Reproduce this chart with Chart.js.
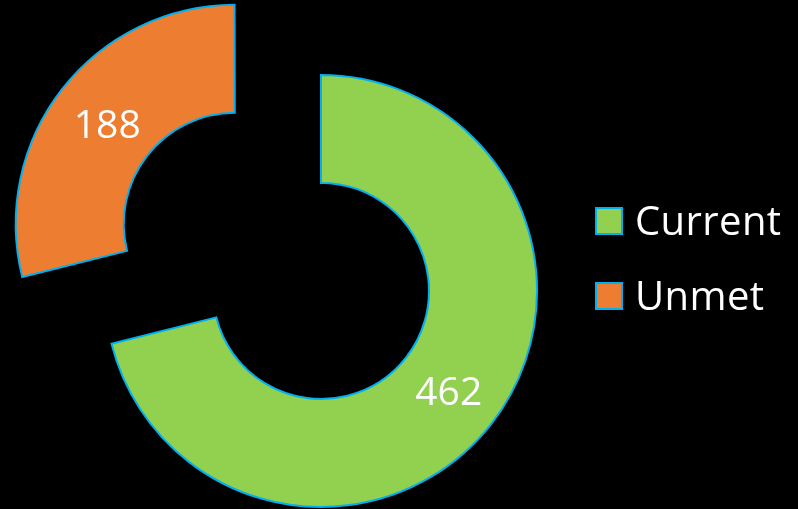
<!DOCTYPE html>
<html>
<head>
<meta charset="utf-8">
<script src="https://cdn.jsdelivr.net/npm/chart.js@4/dist/chart.umd.min.js"></script>
<style>
    html, body {
        margin: 0;
        padding: 0;
        background: #000;
    }
    #wrap {
        position: relative;
        width: 798px;
        height: 509px;
    }
    #legend {
        position: absolute;
        left: 595px;
        top: 200px;
        font-family: "Open Sans", sans-serif;
        font-size: 40px;
        line-height: 40px;
        color: #fff;
    }
    .legend-row {
        position: relative;
        height: 75px;
    }
    .legend-box {
        position: absolute;
        left: 0;
        top: 7px;
        width: 28px;
        height: 28px;
        box-sizing: border-box;
        border: 2px solid #00b0f0;
    }
    .legend-text {
        position: absolute;
        left: 40px;
        top: 0;
        white-space: nowrap;
        letter-spacing: 0.4px;
    }
</style>
</head>
<body>
<div id="wrap">
    <canvas id="donut-chart" width="798" height="509"></canvas>
    <div id="legend"></div>
</div>
<script>
const labels = ['Current', 'Unmet'];
const values = [462, 188];
const colors = ['#92d050', '#ed7d31'];
const offsets = [0, 436]; // arc offset is drawn at a quarter of this

// white value labels in the middle of each ring segment
const valueLabels = {
    id: 'valueLabels',
    afterDatasetsDraw(chart) {
        const ctx = chart.ctx;
        const meta = chart.getDatasetMeta(0);
        const size = 39;
        ctx.save();
        ctx.font = size + 'px "Open Sans", sans-serif';
        ctx.fillStyle = '#ffffff';
        ctx.textAlign = 'center';
        ctx.textBaseline = 'alphabetic';
        meta.data.forEach((arc, i) => {
            const p = arc.getProps(['x', 'y', 'startAngle', 'endAngle', 'innerRadius', 'outerRadius'], true);
            const mid = (p.startAngle + p.endAngle) / 2;
            const r = (p.innerRadius + p.outerRadius) / 2 + (arc.options.offset || 0) / 4;
            const x = p.x + Math.cos(mid) * r;
            const y = p.y + Math.sin(mid) * r;
            // digits are about 0.71em tall, so drop the baseline by half of that
            ctx.fillText(String(values[i]), x, y + size * 0.36);
        });
        ctx.restore();
    }
};

const ctx = document.getElementById('donut-chart').getContext('2d');
const donutChart = new Chart(ctx, {
    type: 'doughnut',
    data: {
        labels: labels,
        datasets: [{
            data: values,
            backgroundColor: colors,
            borderColor: '#00b0f0',
            borderWidth: 2,
            borderJoinStyle: 'miter',
            offset: offsets
        }]
    },
    options: {
        responsive: false,
        animation: false,
        radius: 216,
        cutout: '50%',
        layout: {
            padding: { left: 0, right: 156, top: 73, bottom: 0 }
        },
        plugins: {
            legend: { display: false },
            tooltip: { enabled: false }
        }
    },
    plugins: [valueLabels]
});

// legend built from the chart's own data
const legendEl = document.getElementById('legend');
labels.forEach((label, i) => {
    const row = document.createElement('div');
    row.className = 'legend-row';
    const box = document.createElement('span');
    box.className = 'legend-box';
    box.style.background = colors[i];
    const text = document.createElement('span');
    text.className = 'legend-text';
    text.innerText = label;
    row.appendChild(box);
    row.appendChild(text);
    legendEl.appendChild(row);
});
</script>
</body>
</html>
